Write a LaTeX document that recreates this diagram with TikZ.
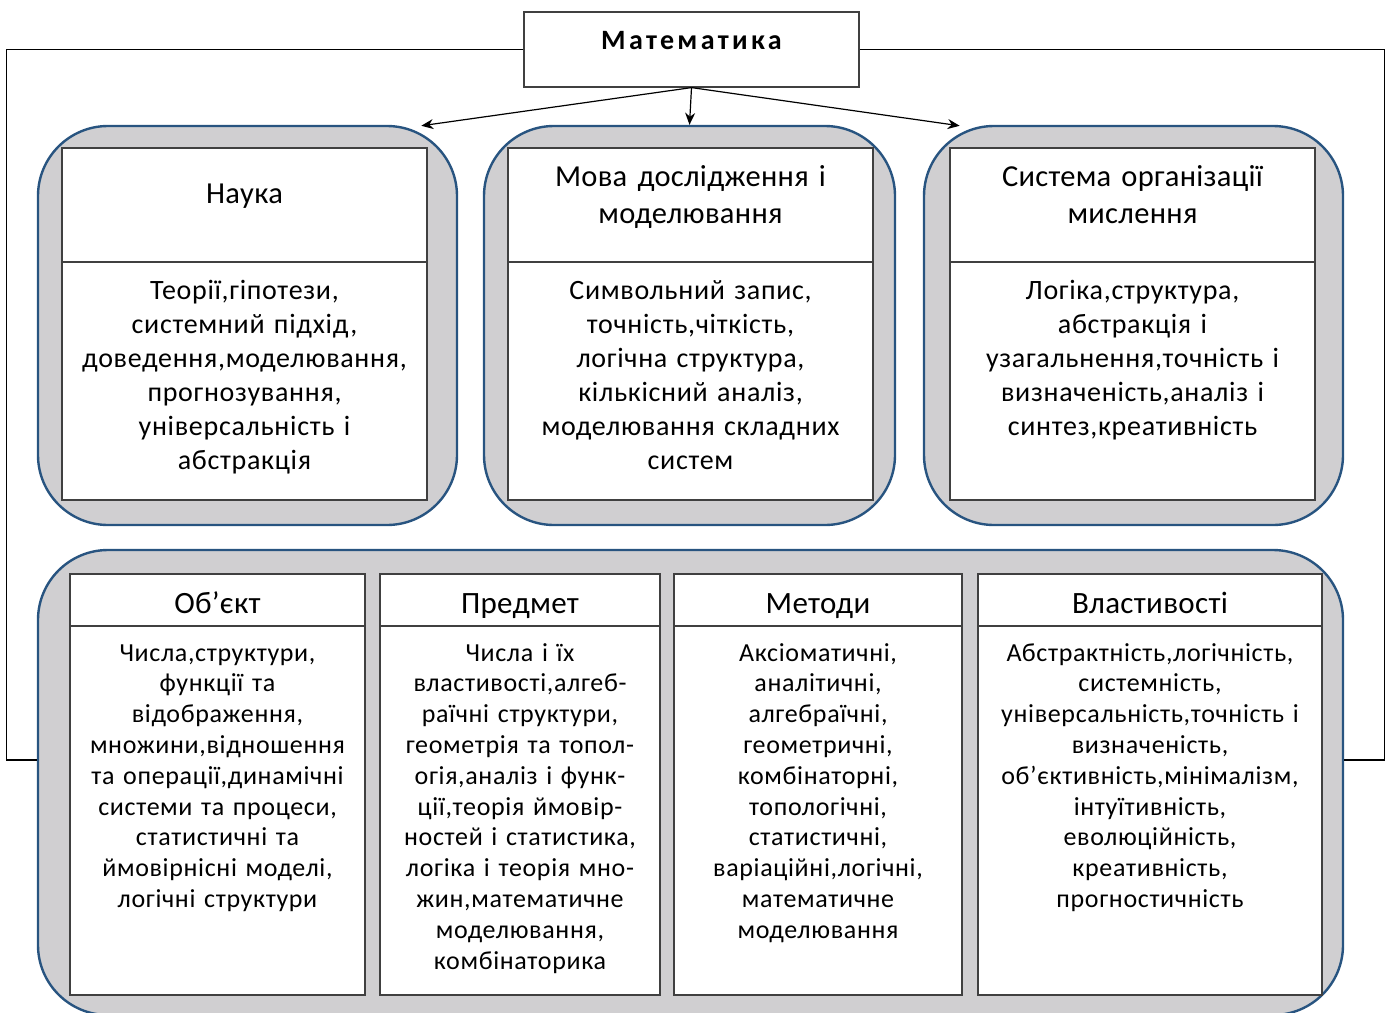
\documentclass[tikz,border=0pt]{standalone}
\usepackage{fontspec}
\setmainfont{Carlito}
\usetikzlibrary{arrows.meta}
\definecolor{panelgray}{RGB}{208,207,209}
\definecolor{panelblue}{RGB}{40,84,128}
\definecolor{boxline}{RGB}{64,64,64}

\begin{document}
\begin{tikzpicture}[x=1pt, y=-1pt, >={Stealth[length=12pt,width=10pt]}]
% Стилі
\tikzset{
  panel/.style={rectangle, draw=panelblue, line width=2.4pt, fill=panelgray, rounded corners=70pt, inner sep=0pt},
  title/.style={rectangle, draw=boxline, fill=white, line width=1.2pt, inner sep=0pt, align=center, font=\fontsize{28}{32}\selectfont\bfseries\addfontfeature{LetterSpace=12}},
  head/.style={rectangle, draw=boxline, fill=white, line width=1.2pt, inner sep=0pt, align=center, text width=365pt, font=\fontsize{30.5}{37}\selectfont\addfontfeature{LetterSpace=1}},
  body/.style={rectangle, draw=boxline, fill=white, line width=1.2pt, inner sep=0pt, align=center, text width=365pt, text height=37pt, text depth=201pt, font=\fontsize{28}{34}\selectfont\addfontfeature{LetterSpace=2.5}},
  subhead/.style={rectangle, draw=boxline, fill=white, line width=1.2pt, inner sep=0pt, align=center, text height=39pt, text depth=13pt, font=\fontsize{31}{34}\selectfont\addfontfeature{LetterSpace=1}},
  subbody/.style={rectangle, draw=boxline, fill=white, line width=1.2pt, inner sep=0pt, align=center, text height=35pt, text depth=334pt, font=\fontsize{26}{30.8}\selectfont\addfontfeature{LetterSpace=2.5}},
  link/.style={draw=black, line width=1.2pt}
}
\useasboundingbox (0,0) rectangle (1389,1012);

% Головний блок
\node[title, text width=335pt, text height=37pt, text depth=38pt] (math) at (691.5,49.5) {Математика};

% Верхні панелі
\node[panel, minimum width=419pt, minimum height=399pt] (nauka) at (247.5,325.5) {};
\node[panel, minimum width=411pt, minimum height=399pt] (mova) at (689.5,325.5) {};
\node[panel, minimum width=419pt, minimum height=399pt] (sys) at (1133.5,325.5) {};

\node[head, text height=55pt, text depth=59pt] (nauka_head) at (244.5,205) {Наука};
\node[body] (nauka_body) at (244.5,381) {
Теорії,гіпотези,\\
системний підхід,\\
доведення,моделювання,\\
прогнозування,\\
універсальність і\\
абстракція};

\node[head, text height=38pt, text depth=76pt] (mova_head) at (690.5,205) {Мова дослідження і\\ моделювання};
\node[body] (mova_body) at (690.5,381) {
Символьний запис,\\
точність,чіткість,\\
логічна структура,\\
кількісний аналіз,\\
моделювання складних\\
систем};

\node[head, text height=38pt, text depth=76pt] (sys_head) at (1132.5,205) {Система організації\\ мислення};
\node[body] (sys_body) at (1132.5,381) {
Логіка,структура,\\
абстракція і\\
узагальнення,точність і\\
визначеність,аналіз і\\
синтез,креативність};

% Нижня панель
\node[panel, minimum width=1305pt, minimum height=465pt] (bottom) at (690.5,782.5) {};

\node[subhead, text width=295pt] (obj_head) at (217.5,600) {Об’єкт};
\node[subbody, text width=295pt] (obj_body) at (217.5,810.5) {
Числа,структури,\\
функції та\\
відображення,\\
множини,відношення\\
та операції,динамічні\\
системи та процеси,\\
статистичні та\\
ймовірнісні моделі,\\
логічні структури};

\node[subhead, text width=280pt] (pred_head) at (520,600) {Предмет};
\node[subbody, text width=280pt] (pred_body) at (520,810.5) {
Числа і їх\\
властивості,алгеб-\\
раїчні структури,\\
геометрія та топол-\\
огія,аналіз і функ-\\
ції,теорія ймовір-\\
ностей і статистика,\\
логіка і теорія мно-\\
жин,математичне\\
моделювання,\\
комбінаторика};

\node[subhead, text width=288pt] (met_head) at (818,600) {Методи};
\node[subbody, text width=288pt] (met_body) at (818,810.5) {
Аксіоматичні,\\
аналітичні,\\
алгебраїчні,\\
геометричні,\\
комбінаторні,\\
топологічні,\\
статистичні,\\
варіаційні,логічні,\\
математичне\\
моделювання};

\node[subhead, text width=344pt] (vlast_head) at (1150,600) {Властивості};
\node[subbody, text width=344pt] (vlast_body) at (1150,810.5) {
Абстрактність,логічність,\\
системність,\\
універсальність,точність і\\
визначеність,\\
об’єктивність,мінімалізм,\\
інтуїтивність,\\
еволюційність,\\
креативність,\\
прогностичність};

% Зв'язки
\draw[link, ->] (math.south) -- (mova.north);
\draw[link, ->, shorten >=-7pt] (math.south) -- (nauka.48);
\draw[link, ->, shorten >=-7pt] (math.south) -- (sys.132);
\draw[link] (math.west) -| ([xshift=-30pt, yshift=22.5pt]bottom.west) -- ([yshift=22.5pt]bottom.west);
\draw[link] (math.east) -| ([xshift=40pt, yshift=22.5pt]bottom.east) -- ([yshift=22.5pt]bottom.east);

\end{tikzpicture}
\end{document}
